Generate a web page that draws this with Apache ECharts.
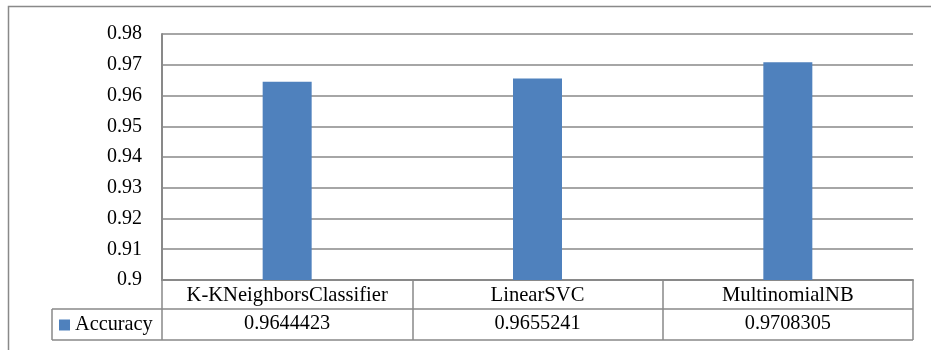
<!DOCTYPE html>
<html>
<head>
<meta charset="utf-8">
<script src="https://cdn.jsdelivr.net/npm/echarts@6/dist/echarts.min.js"></script>
<style>
html,body{margin:0;padding:0;background:#fff;}
#c{width:931px;height:350px;}
</style>
</head>
<body>
<div id="c"></div>
<script>
var categories = ['K-KNeighborsClassifier', 'LinearSVC', 'MultinomialNB'];
var accuracy = [0.9644423, 0.9655241, 0.9708305];
var seriesName = 'Accuracy';
var yMin = 0.9, yMax = 0.98, yStep = 0.01;

var FONT = '"Liberation Serif", "Times New Roman", serif';
var GRAY = '#898989';
var gLeft = 162, gRight = 913, gTop = 34, gBottom = 280;
var row1 = 309, row2 = 340, legLeft = 52;

var chart = echarts.init(document.getElementById('c'), null, {renderer: 'canvas'});
chart.setOption({
  animation: false,
  backgroundColor: '#fff',
  textStyle: {fontFamily: FONT},
  grid: {left: gLeft, right: 931 - gRight, top: gTop, bottom: 350 - gBottom, containLabel: false},
  legend: {
    left: 59, top: 315, padding: 0,
    itemWidth: 11, itemHeight: 11, icon: 'rect',
    itemGap: 5,
    formatter: function (n) { return '{t|' + n + '}'; },
    textStyle: {
      fontFamily: FONT, fontSize: 20, color: '#000',
      rich: {t: {fontFamily: FONT, fontSize: 20.3, color: '#000', lineHeight: 20}}
    },
    data: [seriesName]
  },
  xAxis: [{
    type: 'category',
    data: categories,
    position: 'bottom',
    axisLine: {show: true, lineStyle: {color: GRAY, width: 2}},
    axisTick: {show: true, interval: 0, length: row2 - gBottom, lineStyle: {color: GRAY, width: 1.5}},
    axisLabel: {interval: 0, fontFamily: FONT, fontSize: 20.6, color: '#000', margin: 6, lineHeight: 20}
  }, {
    type: 'category',
    data: accuracy.map(function (v) { return String(v); }),
    position: 'bottom',
    offset: 29,
    axisLine: {show: false},
    axisTick: {show: false},
    axisLabel: {interval: 0, fontFamily: FONT, fontSize: 20.3, color: '#000', margin: 5, lineHeight: 20}
  }],
  yAxis: {
    type: 'value',
    min: yMin, max: yMax, interval: yStep,
    axisLine: {show: true, lineStyle: {color: GRAY, width: 2}},
    axisTick: {show: false},
    splitLine: {show: true, lineStyle: {color: GRAY, width: 1.5}},
    axisLabel: {
      fontFamily: FONT, fontSize: 20, color: '#000', margin: 20,
      formatter: function (v) { return String(+v.toFixed(2)); }
    }
  },
  series: [{
    name: seriesName,
    type: 'bar',
    xAxisIndex: 0,
    data: accuracy,
    barWidth: 49,
    itemStyle: {color: '#4F81BD'}
  }],
  graphic: [
    {type: 'rect', silent: true, shape: {x: 8.5, y: 6.5, width: 1000, height: 1000},
     style: {fill: 'none', stroke: GRAY, lineWidth: 1.5}},
    {type: 'line', silent: true, shape: {x1: legLeft, y1: row1, x2: gRight, y2: row1},
     style: {stroke: GRAY, lineWidth: 1.5}},
    {type: 'line', silent: true, shape: {x1: legLeft, y1: row2, x2: gRight, y2: row2},
     style: {stroke: GRAY, lineWidth: 1.5}},
    {type: 'line', silent: true, shape: {x1: legLeft, y1: row1, x2: legLeft, y2: row2},
     style: {stroke: GRAY, lineWidth: 1.5}}
  ]
});
</script>
</body>
</html>
